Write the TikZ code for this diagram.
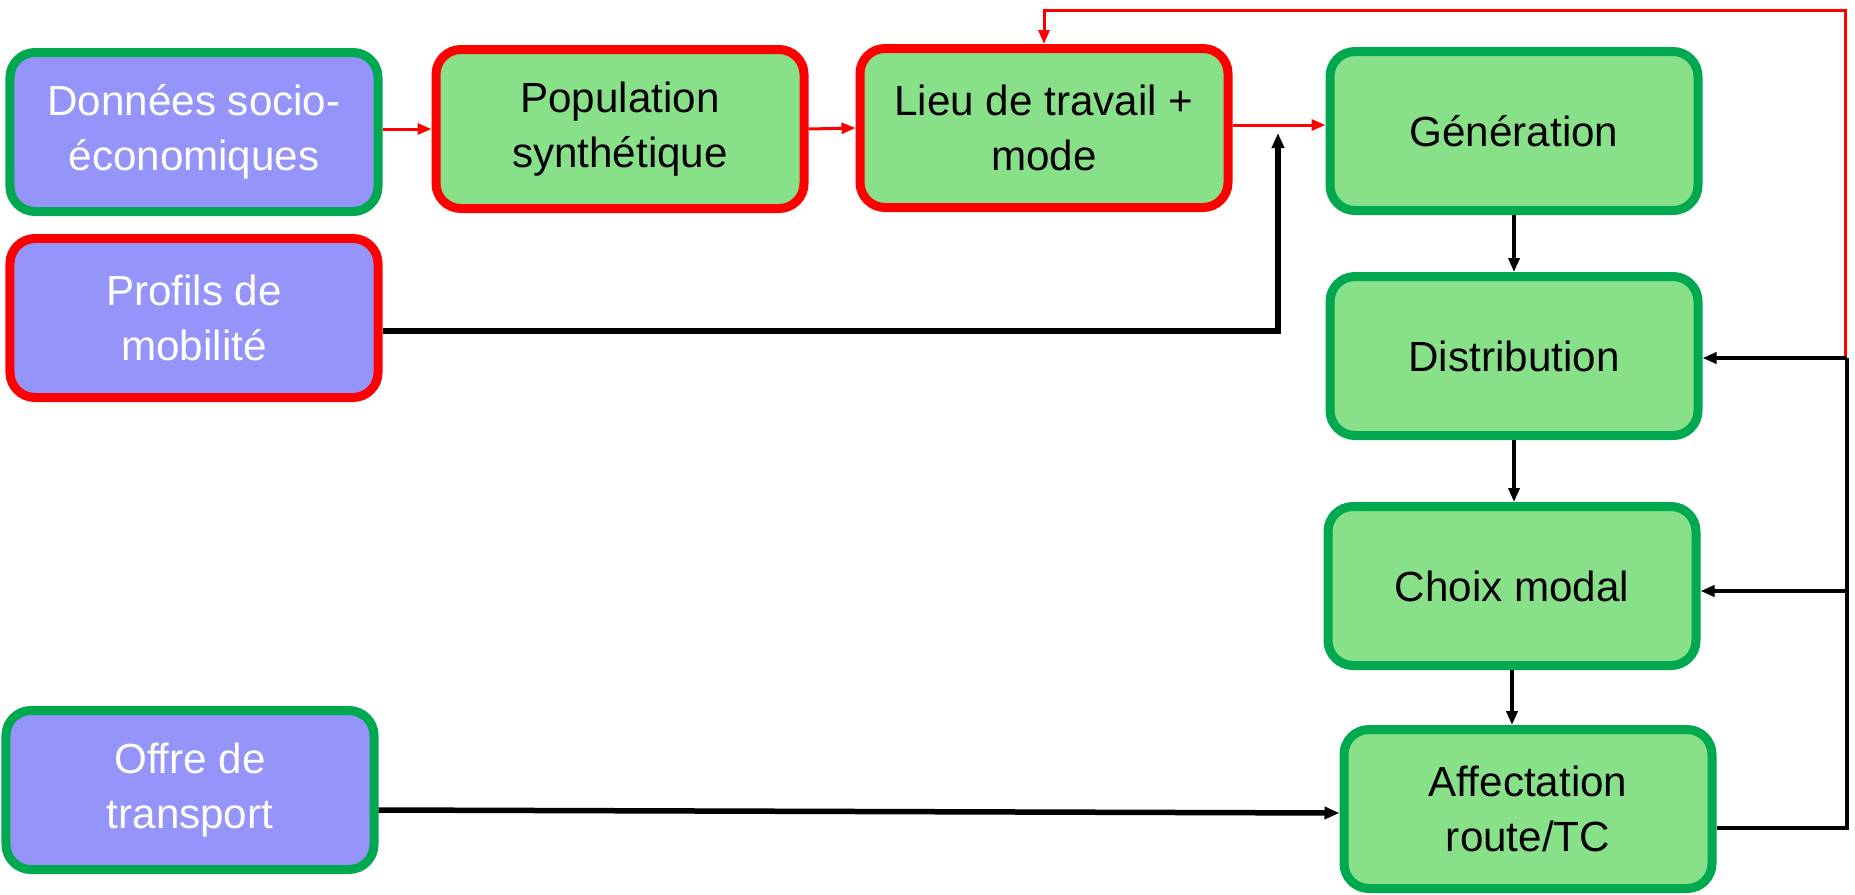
\documentclass[tikz,border=0pt]{standalone}
\usepackage{fontspec}
\setmainfont{Liberation Sans}
\usetikzlibrary{calc,arrows.meta}
\definecolor{boxblue}{RGB}{148,148,250}
\definecolor{boxgreen}{RGB}{136,224,136}
\definecolor{edgegreen}{RGB}{0,168,80}
\tikzset{
	modbox/.style={rectangle, rounded corners=5mm, line width=1.8mm, minimum width=73.6mm, minimum height=31.8mm, align=center, inner sep=0pt, font=\fontsize{24}{31}\selectfont},
	inbox/.style={modbox, fill=boxblue, text=white},
	calcbox/.style={modbox, fill=boxgreen, text=black},
	okedge/.style={draw=edgegreen},
	newedge/.style={draw=red},
	redflow/.style={draw=red, line width=0.6mm, -{Triangle[length=2.8mm,width=2.2mm]}},
	blackflow/.style={draw=black, line width=0.7mm, -{Triangle[length=2.8mm,width=2.2mm]}},
	blackthick/.style={draw=black, line width=1.1mm, -{Triangle[length=3mm,width=2.4mm]}}
}

\begin{document}
\begin{tikzpicture}[x=0.2mm, y=-0.2mm]
			%%%%% START %%%%%
			\useasboundingbox (0, 0) rectangle (1855, 894);
			
			\node[inbox, okedge] (donnees) at (194, 132) {Données socio-\\économiques};
			\node[calcbox, newedge] (pop) at (620, 129) {Population\\synthétique};
			\node[calcbox, newedge] (lieu) at (1044, 128) {Lieu de travail +\\mode};
			\node[calcbox, okedge] (gen) at (1514, 131) {Génération};
			
			\node[inbox, newedge] (profils) at (194, 318) {Profils de\\mobilité};
			\node[calcbox, okedge] (distrib) at (1514, 356) {Distribution};
			\node[calcbox, okedge] (choix) at (1512, 586) {Choix modal};
			
			\node[inbox, okedge] (offre) at (190, 790) {Offre de\\transport};
			\node[calcbox, okedge] (affect) at (1528, 809) {Affectation\\route/TC};
			
			\coordinate (corner) at (1847, 358);
			\coordinate (top) at (1845, 10);
			\coordinate (uptip) at (1278, 133);
			
			\draw[redflow] (donnees.east |- pop) -- (pop.west);
			\draw[redflow] (pop.east) -- (lieu.west);
			\draw[redflow] (lieu.east |- 0, 125) -- (gen.west |- 0, 125);
			\draw[redflow] (corner -| top) -- (top) -| (lieu.north);
			
			\draw[blackthick] ($(profils.east)+(0, 13)$) -| (uptip);
			\draw[blackthick] ($(offre.east)+(0, 20)$) -- ($(affect.west)+(0, 4)$);
			
			\draw[blackflow] (gen.south) -- (distrib.north);
			\draw[blackflow] (distrib.south) -- (choix.north -| distrib.south);
			\draw[blackflow] (choix.south) -- (affect.north -| choix.south);
			
			\draw[line width=0.7mm] ($(affect.east)+(0, 19)$) -| (corner);
			\draw[blackflow] (corner) -- (distrib.east |- corner);
			\draw[blackflow] (corner |- 0, 591) -- (choix.east |- 0, 591);
			%%%%% END %%%%%
\end{tikzpicture}
\end{document}
